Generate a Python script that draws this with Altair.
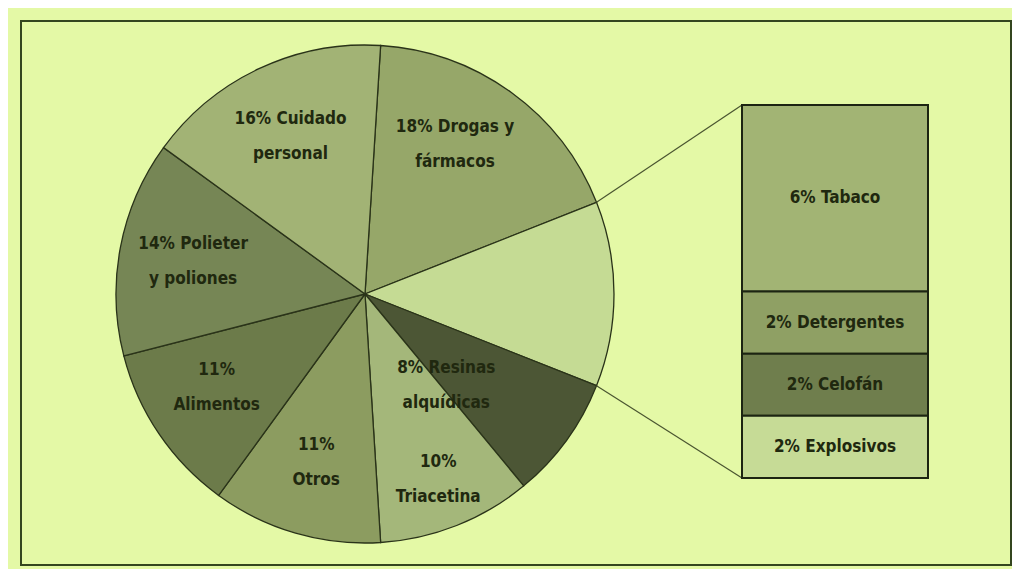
import math
import altair as alt
import pandas as pd

# ---------------- data ----------------
slice_names = ["Drogas y fármacos", "Otros usos", "Resinas alquídicas", "Triacetina",
               "Otros", "Alimentos", "Polieter y poliones", "Cuidado personal"]
slice_labels = ["18% Drogas y\nfármacos", "", "8% Resinas\nalquídicas", "10%\nTriacetina",
                "11%\nOtros", "11%\nAlimentos", "14% Polieter\ny poliones", "16% Cuidado\npersonal"]
slice_values = [18, 12, 8, 10, 11, 11, 14, 16]

bar_names = ["Tabaco", "Detergentes", "Celofán", "Explosivos"]
bar_labels = ["6% Tabaco", "2% Detergentes", "2% Celofán", "2% Explosivos"]
bar_values = [6, 2, 2, 2]

# ---------------- style ----------------
slice_colors = ["#96A769", "#C5DB94", "#4C5635", "#A4B77A", "#8C9C60", "#6C7B4A", "#768655", "#A2B375"]
bar_colors = ["#A2B474", "#8FA064", "#6F7E4D", "#C6DB96"]
BG = "#E4F9A6"
INK = "#20280F"
FONT = "DejaVu Sans Condensed, Liberation Sans Narrow, sans-serif"

W, H = 990, 544
CX, CY, R = 344, 273, 249
OFF = math.radians(3.6)
BAR_X0, BAR_X1, BAR_Y0, BAR_Y1 = 721, 907, 84, 457

label_radius = {"Resinas alquídicas": 122, "Triacetina": 199}
label_nudge = {"Resinas alquídicas": 3.4, "Drogas y fármacos": -1.4, "Alimentos": 0.6}

pie_df = pd.DataFrame({"name": slice_names, "label": slice_labels,
                       "value": slice_values, "order": list(range(len(slice_names)))})
bar_df = pd.DataFrame({"name": bar_names, "label": bar_labels,
                       "value": bar_values, "order": list(range(len(bar_names)))})

total = sum(slice_values)
theta_scale = alt.Scale(domain=[0, total], range=[OFF, OFF + 2 * math.pi])

def expr_map(d, default):
    e = str(default)
    for k, v in d.items():
        e = f"datum.name === '{k}' ? {v} : ({e})"
    return e

base = alt.Chart(pie_df).transform_stack(
    stack="value", groupby=[], as_=["v0", "v1"], sort=[alt.SortField("order", "ascending")]
).transform_calculate(
    tm=f"(datum.v0 + datum.v1) / 2 + ({expr_map(label_nudge, 0)})",
    lr=expr_map(label_radius, 175),
)

arcs = base.mark_arc(radius=R, stroke="#2A3319", strokeWidth=1.3).encode(
    theta=alt.Theta("v0:Q", scale=theta_scale),
    theta2="v1:Q",
    color=alt.Color("name:N", scale=alt.Scale(domain=slice_names, range=slice_colors), legend=None),
    x=alt.value(CX), y=alt.value(CY),
)

pie_text = base.mark_text(font=FONT, fontSize=17, fontWeight="bold", color=INK,
                          lineBreak="\n", lineHeight=35, align="center", baseline="middle",
                          dy=-17).encode(
    theta=alt.Theta("tm:Q", scale=theta_scale),
    radius=alt.Radius("lr:Q", scale=None),
    text="label:N",
    x=alt.value(CX), y=alt.value(CY),
)

# connectors from the grouped slice to the bar
c_start = sum(slice_values[:1])
c_end = c_start + slice_values[1]
bar_total = sum(bar_values)
rows = []
for c, by in [(c_start, BAR_Y0), (c_end, BAR_Y1)]:
    a = OFF + 2 * math.pi * c / total
    rows.append({"px": CX + R * math.sin(a), "py": CY - R * math.cos(a), "bx": BAR_X0, "by": by})
conn_df = pd.DataFrame(rows)
xs = alt.Scale(domain=[0, W], range=[0, W])
ys = alt.Scale(domain=[0, H], range=[0, H])
connectors = alt.Chart(conn_df).mark_rule(color="#4A5530", strokeWidth=1.2).encode(
    x=alt.X("px:Q", scale=xs, axis=None), y=alt.Y("py:Q", scale=ys, axis=None),
    x2="bx:Q", y2="by:Q",
)

bar_base = alt.Chart(bar_df).transform_stack(
    stack="value", groupby=[], as_=["b0", "b1"], sort=[alt.SortField("order", "ascending")]
).transform_calculate(bm="(datum.b0 + datum.b1) / 2")
bscale = alt.Scale(domain=[0, bar_total], range=[BAR_Y0, BAR_Y1], nice=False, zero=False)

bars = bar_base.mark_bar(stroke="#1C2412", strokeWidth=2).encode(
    y=alt.Y("b0:Q", scale=bscale, axis=None), y2="b1:Q",
    x=alt.value(BAR_X0), x2=alt.value(BAR_X1),
    color=alt.Color("name:N", scale=alt.Scale(domain=bar_names, range=bar_colors), legend=None),
)
bar_text = bar_base.mark_text(font=FONT, fontSize=17, fontWeight="bold", color=INK,
                              align="center", baseline="middle").encode(
    y=alt.Y("bm:Q", scale=bscale, axis=None),
    x=alt.value((BAR_X0 + BAR_X1) / 2),
    text="label:N",
)

chart = alt.layer(arcs, connectors, bars, pie_text, bar_text).resolve_scale(
    x="independent", y="independent", color="independent"
).properties(
    width=W, height=H, background=BG,
    padding={"left": 13, "top": 13, "right": 1, "bottom": 4},
).configure_view(stroke="#34461F", strokeWidth=2)

chart.save("out.html", embed_options={"renderer": "svg", "actions": False})
